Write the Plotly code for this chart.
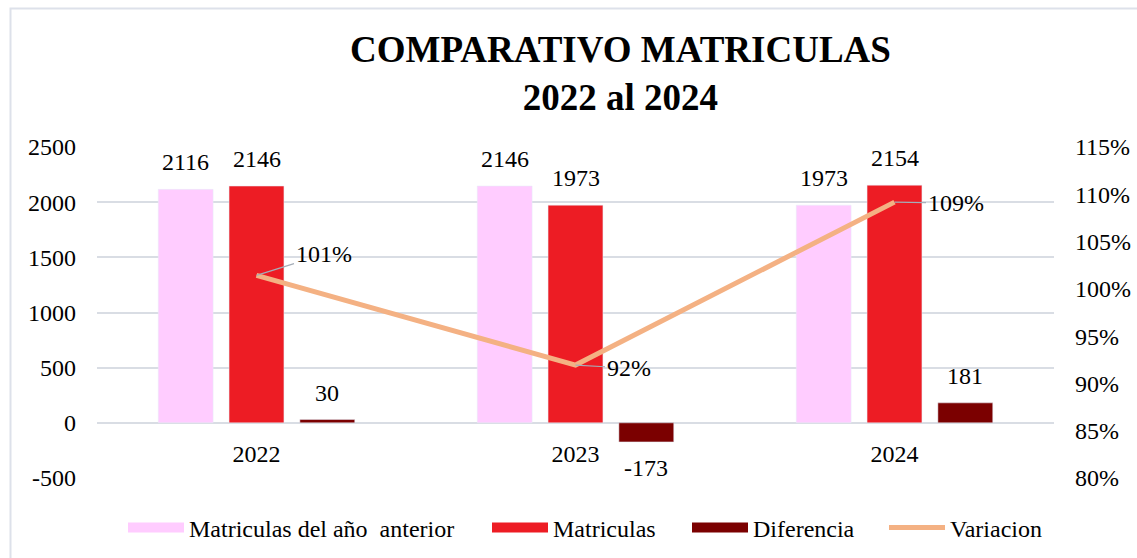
import plotly.graph_objects as go

years = ["2022", "2023", "2024"]
anterior = [2116, 2146, 1973]
matriculas = [2146, 1973, 2154]
diferencia = [30, -173, 181]
variacion = [1.0142, 0.9194, 1.0917]
variacion_labels = ["101%", "92%", "109%"]
y_ticks = [-500, 0, 500, 1000, 1500, 2000, 2500]
y2_ticks = [0.80, 0.85, 0.90, 0.95, 1.00, 1.05, 1.10, 1.15]
series_names = ["Matriculas del año  anterior", "Matriculas", "Diferencia", "Variacion"]

FONT = "Liberation Serif, Times New Roman, serif"
C_PINK = "#ffccff"
C_RED = "#ed1c24"
C_DARK = "#7b0000"
C_LINE = "#f4b183"
GRID = "#d9dde4"

W, H = 1137, 558
L, R, T, B = 97, 83, 147, 80
PW, PH = W - L - R, H - T - B

y_range = [-500, 2500]
y2_range = [0.80, 1.15]
bargap = 0.334
bargroupgap = 0.225
slot = (1 - bargap) / 3

xs = list(range(len(years)))
colors = [C_PINK, C_RED, C_DARK]

fig = go.Figure()
for name, vals, col in zip(series_names[:3], [anterior, matriculas, diferencia], colors):
    fig.add_trace(go.Bar(x=xs, y=vals, name=name, marker_color=col,
                         showlegend=False))
fig.add_trace(go.Scatter(x=xs, y=variacion, name=series_names[3], yaxis="y2",
                         mode="lines", line=dict(color=C_LINE, width=5),
                         showlegend=False))

# legend entries (wide swatches as in the reference)
legend_ids = ["legend", "legend2", "legend3", "legend4"]
for name, col, lw, lid in zip(series_names, colors + [C_LINE], [12, 12, 12, 5], legend_ids):
    fig.add_trace(go.Scatter(x=[None], y=[None], name=name, mode="lines",
                             line=dict(color=col, width=lw), legend=lid,
                             showlegend=True, hoverinfo="skip"))

annotations = []
for k, series in enumerate([anterior, matriculas, diferencia]):
    for i, v in enumerate(series):
        annotations.append(dict(
            x=i + (k - 1) * slot, y=v, xref="x", yref="y", text=str(v),
            showarrow=False, yanchor="middle", yshift=27 if v >= 0 else -26,
            font=dict(family=FONT, size=24, color="black")))

offsets = [(67, -21), (53, 3), (61, 1)]
for i, (v, lab) in enumerate(zip(variacion, variacion_labels)):
    annotations.append(dict(
        x=i, y=v, xref="x", yref="y2", text=lab, showarrow=True,
        arrowhead=0, arrowwidth=1.2, arrowcolor="#a5adb8",
        ax=offsets[i][0], ay=offsets[i][1], standoff=0,
        font=dict(family=FONT, size=24, color="black")))

# title
annotations.append(dict(
    text="<b>COMPARATIVO MATRICULAS<br>2022 al 2024</b>",
    x=(620 - L) / PW, xref="paper", xanchor="center",
    y=(H - B - 73) / PH, yref="paper", yanchor="middle",
    showarrow=False, align="center",
    font=dict(family=FONT, size=37, color="black")))

zero_pos = (0 - y_range[0]) / (y_range[1] - y_range[0])


def legend_at(swatch_x):
    return dict(orientation="h", xref="container", yref="container",
                x=(swatch_x - 6) / W, y=1 - 528 / H, xanchor="left",
                yanchor="middle", font=dict(family=FONT, size=24, color="black"),
                itemwidth=56, bgcolor="rgba(0,0,0,0)")


fig.update_layout(
    width=W, height=H,
    margin=dict(l=L, r=R, t=T, b=B, autoexpand=False),
    paper_bgcolor="white", plot_bgcolor="white",
    barmode="group", bargap=bargap, bargroupgap=bargroupgap,
    font=dict(family=FONT, size=24, color="black"),
    xaxis=dict(range=[-0.5, 2.5], tickvals=xs, ticktext=years,
               anchor="free", position=zero_pos, showgrid=False,
               zeroline=False, showline=False, ticks="",
               ticklabelstandoff=14,
               tickfont=dict(family=FONT, size=24)),
    yaxis=dict(range=y_range, tickvals=y_ticks,
               ticktext=[str(v) for v in y_ticks],
               showgrid=True, gridcolor=GRID,
               gridwidth=1.5, zeroline=False, showline=False, ticks="",
               ticklabelstandoff=20, tickfont=dict(family=FONT, size=24)),
    yaxis2=dict(range=y2_range, tickvals=y2_ticks,
                ticktext=[f"{round(v * 100)}%" for v in y2_ticks],
                overlaying="y",
                side="right", showgrid=False, zeroline=False, showline=False,
                ticks="", ticklabelstandoff=20,
                tickfont=dict(family=FONT, size=24)),
    legend=legend_at(129),
    legend2=legend_at(493),
    legend3=legend_at(693),
    legend4=legend_at(890),
    annotations=annotations,
    shapes=[dict(type="rect", xref="paper", yref="paper",
                 x0=(10.5 - L) / PW, x1=(W + 8 - L) / PW,
                 y0=(-10 - B) / PH, y1=(H - 8.5 - B) / PH,
                 line=dict(color="#dde1ea", width=2), fillcolor="rgba(0,0,0,0)",
                 layer="below")],
)

fig.write_html("out.html",
               config={"displayModeBar": False},
               post_script="document.body.style.margin='0';"
                           "document.body.style.overflow='hidden';")
